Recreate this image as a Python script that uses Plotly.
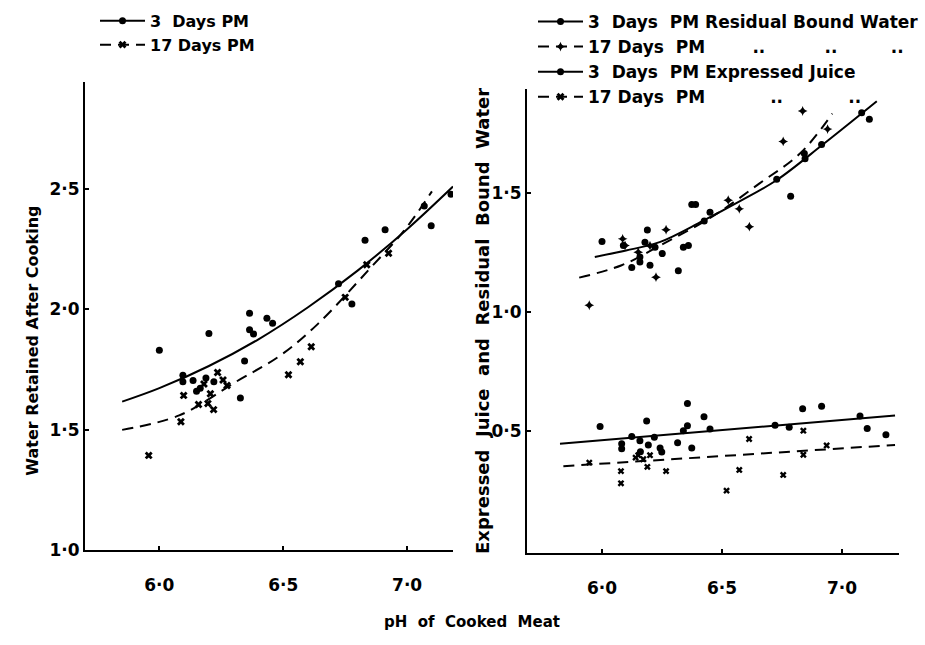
import plotly.graph_objects as go

# ---------------- data ----------------
# Left panel: Water retained after cooking
L3_x = [6.00, 6.20, 6.095, 6.095, 6.136, 6.188, 6.22, 6.165, 6.15, 6.344, 6.327, 6.364, 6.364,
        6.38, 6.434, 6.457, 6.723, 6.777, 6.83, 6.911, 7.069, 7.097, 7.177]
L3_y = [1.83, 1.90, 1.727, 1.70, 1.705, 1.715, 1.70, 1.673, 1.66, 1.786, 1.632, 1.984, 1.915,
        1.898, 1.963, 1.943, 2.106, 2.022, 2.287, 2.331, 2.429, 2.347, 2.478]
L17_x = [5.957, 6.087, 6.098, 6.158, 6.196, 6.219, 6.235, 6.257, 6.273, 6.206, 6.18, 6.521,
         6.569, 6.613, 6.75, 6.837, 6.925]
L17_y = [1.394, 1.534, 1.643, 1.605, 1.609, 1.584, 1.738, 1.707, 1.684, 1.65, 1.69, 1.729,
         1.783, 1.845, 2.05, 2.185, 2.233]
L3_fit_x = [5.85, 6.0, 6.2, 6.4, 6.6, 6.8, 7.0, 7.185]
L3_fit_y = [1.617, 1.673, 1.765, 1.876, 2.009, 2.161, 2.333, 2.51]
L17_fit_x = [5.85, 6.08, 6.31, 6.49, 6.64, 6.85, 6.99, 7.10]
L17_fit_y = [1.50, 1.56, 1.70, 1.81, 1.94, 2.17, 2.33, 2.49]

# Right panel: residual bound water (upper) and expressed juice (lower)
RB3_x = [6.00, 6.189, 6.179, 6.158, 6.124, 6.158, 6.20, 6.221, 6.251, 6.318, 6.339, 6.36, 6.374,
         6.39, 6.426, 6.45, 6.728, 6.786, 6.843, 6.846, 6.915, 7.082, 7.114, 6.089]
RB3_y = [1.298, 1.346, 1.295, 1.233, 1.188, 1.212, 1.198, 1.274, 1.247, 1.175, 1.274, 1.281, 1.453,
         1.453, 1.384, 1.421, 1.559, 1.488, 1.667, 1.645, 1.705, 1.839, 1.811, 1.281]
RB17_x = [5.947, 6.086, 6.096, 6.267, 6.225, 6.526, 6.572, 6.614, 6.755, 6.836, 6.94, 6.151, 6.2]
RB17_y = [1.030, 1.309, 1.281, 1.347, 1.148, 1.471, 1.435, 1.36, 1.718, 1.846, 1.77, 1.253, 1.28]
RB3_fit_x = [5.97, 6.10, 6.24, 6.42, 6.575, 6.73, 6.92, 7.145]
RB3_fit_y = [1.233, 1.26, 1.295, 1.384, 1.467, 1.557, 1.705, 1.887]
RB17_fit_x = [5.905, 6.082, 6.242, 6.464, 6.658, 6.825, 6.96]
RB17_fit_y = [1.146, 1.198, 1.281, 1.405, 1.543, 1.667, 1.835]

EJ3_x = [5.992, 6.186, 6.124, 6.082, 6.082, 6.158, 6.193, 6.218, 6.242, 6.249, 6.356, 6.356, 6.339,
         6.425, 6.45, 6.315, 6.374, 6.721, 6.78, 6.836, 6.915, 7.075, 7.105, 7.183, 6.16]
EJ3_y = [0.521, 0.544, 0.479, 0.448, 0.427, 0.461, 0.443, 0.475, 0.43, 0.413, 0.617, 0.524, 0.503,
         0.562, 0.51, 0.452, 0.43, 0.526, 0.517, 0.595, 0.606, 0.565, 0.512, 0.486, 0.415]
EJ17_x = [5.947, 6.079, 6.079, 6.151, 6.172, 6.189, 6.267, 6.519, 6.572, 6.613, 6.755, 6.839,
          6.839, 6.936, 6.14, 6.2]
EJ17_y = [0.369, 0.333, 0.282, 0.40, 0.383, 0.351, 0.333, 0.251, 0.338, 0.468, 0.317, 0.503,
          0.402, 0.441, 0.39, 0.40]
EJ3_fit_x = [5.825, 7.221]
EJ3_fit_y = [0.448, 0.567]
EJ17_fit_x = [5.839, 7.221]
EJ17_fit_y = [0.354, 0.443]

x_ticks = [6.0, 6.5, 7.0]
x_ticktext = ["6·0", "6·5", "7·0"]
yl_ticks = [1.0, 1.5, 2.0, 2.5]
yl_ticktext = ["1·0", "1·5", "2·0", "2·5"]
yr_ticks = [0.5, 1.0, 1.5]
yr_ticktext = ["0·5", "1·0", "1·5"]

FONT = "DejaVu Sans"
NB = "\u00a0"
SP = NB * 2
DASH = "11px,7px"

fig = go.Figure()


def pts(x, y, sym, size, xa, ya):
    fig.add_trace(go.Scatter(x=x, y=y, mode="markers", xaxis=xa, yaxis=ya, showlegend=False,
                             marker=dict(symbol=sym, size=size, color="black",
                                         line=dict(width=0))))


def curve(x, y, dash, xa, ya):
    fig.add_trace(go.Scatter(x=x, y=y, mode="lines", xaxis=xa, yaxis=ya, showlegend=False,
                             line=dict(color="black", width=2, dash=dash, shape="spline")))


def key(name, sym, dash, xa, ya, legend):
    fig.add_trace(go.Scatter(x=[None], y=[None], mode="lines+markers", name=name, xaxis=xa,
                             yaxis=ya, legend=legend,
                             marker=dict(symbol=sym, size=7, color="black"),
                             line=dict(color="black", width=2, dash=dash)))


# left panel
curve(L3_fit_x, L3_fit_y, "solid", "x", "y")
curve(L17_fit_x, L17_fit_y, DASH, "x", "y")
pts(L3_x, L3_y, "circle", 7, "x", "y")
pts(L17_x, L17_y, "x", 7, "x", "y")
key("3" + SP + "Days" + NB + "PM", "circle", "solid", "x", "y", "legend")
key("17" + NB + "Days" + NB + "PM", "x", DASH, "x", "y", "legend")

# right panel
curve(RB3_fit_x, RB3_fit_y, "solid", "x2", "y2")
curve(RB17_fit_x, RB17_fit_y, DASH, "x2", "y2")
curve(EJ3_fit_x, EJ3_fit_y, "solid", "x2", "y2")
curve(EJ17_fit_x, EJ17_fit_y, DASH, "x2", "y2")
pts(RB3_x, RB3_y, "circle", 7, "x2", "y2")
pts(RB17_x, RB17_y, "star-diamond", 7, "x2", "y2")
pts(EJ3_x, EJ3_y, "circle", 7, "x2", "y2")
pts(EJ17_x, EJ17_y, "x", 6, "x2", "y2")
key("3" + SP + "Days" + SP + "PM" + NB + "Residual" + NB + "Bound" + NB + "Water",
    "circle", "solid", "x2", "y2", "legend2")
key("17" + NB + "Days" + SP + "PM" + NB * 8 + ".." + NB * 10 + ".." + NB * 9 + "..",
    "star-diamond", DASH, "x2", "y2", "legend2")
key("3" + SP + "Days" + SP + "PM" + NB + "Expressed" + NB + "Juice",
    "circle", "solid", "x2", "y2", "legend2")
key("17" + NB + "Days" + SP + "PM" + NB * 11 + ".." + NB * 11 + "..",
    "x", DASH, "x2", "y2", "legend2")

W, H = 925, 645
axis_common = dict(showline=True, linecolor="black", linewidth=2, showgrid=False, zeroline=False,
                   ticks="inside", ticklen=4, tickwidth=2, tickcolor="black",
                   tickfont=dict(family=FONT, size=17, color="black", weight="bold"), mirror=False)

fig.update_layout(
    width=W, height=H, margin=dict(l=0, r=0, t=0, b=0),
    paper_bgcolor="white", plot_bgcolor="white",
    font=dict(family=FONT, size=16, color="black", weight="bold"),
    xaxis=dict(domain=[85 / W, 453 / W], range=[5.70, 7.185], tickvals=x_ticks,
               ticktext=x_ticktext, anchor="y", ticklabelstandoff=18, **axis_common),
    yaxis=dict(domain=[(H - 559) / H, (H - 83) / H], range=[1.0, 2.945], tickvals=yl_ticks,
               ticktext=yl_ticktext, anchor="x", **axis_common),
    xaxis2=dict(domain=[527 / W, 899 / W], range=[5.6875, 7.2375], tickvals=x_ticks,
                ticktext=x_ticktext, anchor="y2", ticklabelstandoff=18, **axis_common),
    yaxis2=dict(domain=[(H - 562) / H, (H - 90) / H], range=[-0.012, 1.94], tickvals=yr_ticks,
                ticktext=yr_ticktext, anchor="x2", **axis_common),
    legend=dict(x=95 / W, y=1 - 4 / H, xanchor="left", yanchor="top",
                bgcolor="rgba(0,0,0,0)", font=dict(family=FONT, size=16, color="black", weight="bold"),
                itemwidth=45, tracegroupgap=0),
    legend2=dict(x=533 / W, y=1 - 4 / H, xanchor="left", yanchor="top",
                 bgcolor="rgba(0,0,0,0)", font=dict(family=FONT, size=17, color="black", weight="bold"),
                 itemwidth=45, tracegroupgap=0),
    annotations=[
        dict(text="Water Retained After Cooking", textangle=-90, x=33 / W, y=(H - 346) / H,
             xref="paper", yref="paper", showarrow=False, xanchor="center", yanchor="middle",
             font=dict(family=FONT, size=16, color="black", weight="bold")),
        dict(text=SP.join(["Expressed", "Juice", "and", "Residual", "Bound", "Water"]),
             textangle=-90, x=483 / W,
             y=(H - 326) / H, xref="paper", yref="paper", showarrow=False, xanchor="center",
             yanchor="middle", font=dict(family=FONT, size=18, color="black", weight="bold")),
        dict(text=SP.join(["pH", "of", "Cooked", "Meat"]), x=472 / W,
             y=(H - 632) / H, xref="paper", yref="paper", showarrow=False, xanchor="center",
             yanchor="middle", font=dict(family=FONT, size=15, color="black", weight="bold")),
    ],
)

fig.write_html("out.html")
